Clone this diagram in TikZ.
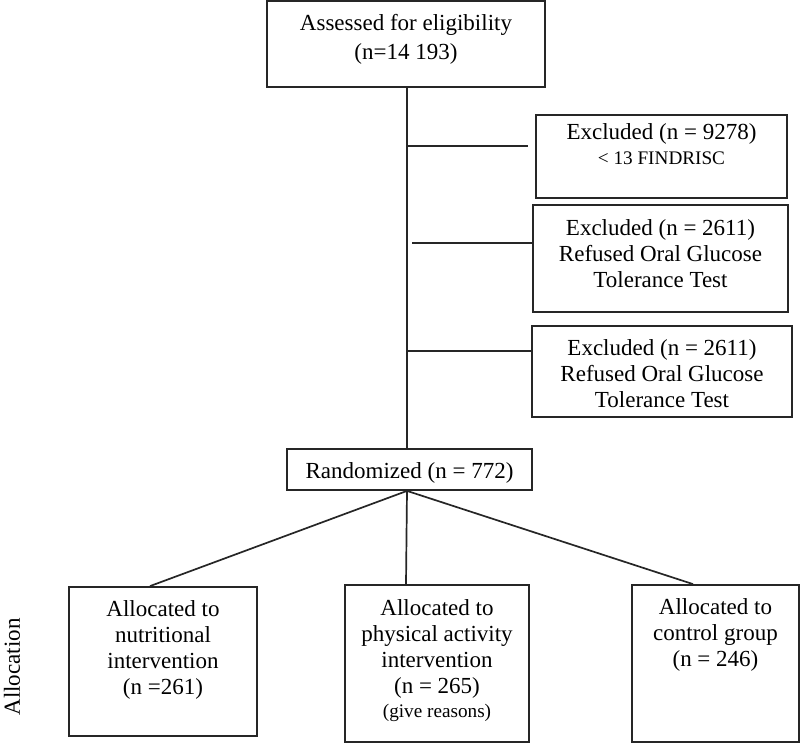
\documentclass[tikz,border=0pt]{standalone}
\usepackage{fontspec}
\setmainfont{Liberation Serif}
\begin{document}
\begin{tikzpicture}[x=0.5pt,y=-0.5pt,
  box/.style={draw=black!85, line width=0.9pt, inner sep=0pt},
  txt/.style={align=center, inner sep=0pt, font=\fontsize{11.5}{13}\selectfont},
  small/.style={font=\fontsize{9.6}{11}\selectfont},
  conn/.style={draw=black!85, line width=0.85pt}
]
\useasboundingbox (0,0) rectangle (800,744);
% boxes
\node[box, minimum width=139pt, minimum height=43pt] (top) at (406,44) {};
\node[box, minimum width=125.5pt, minimum height=41.5pt] (ex1) at (661.5,156.5) {};
\node[box, minimum width=127.5pt, minimum height=53.5pt] (ex2) at (660.5,258.5) {};
\node[box, minimum width=130pt, minimum height=45.5pt] (ex3) at (662,371.5) {};
\node[box, minimum width=122.5pt, minimum height=20.5pt] (rand) at (409.5,469.5) {};
\node[box, minimum width=94pt, minimum height=74.5pt] (nut) at (163,661.5) {};
\node[box, minimum width=92pt, minimum height=78.5pt] (phys) at (437,663.5) {};
\node[box, minimum width=83.5pt, minimum height=78.5pt] (ctrl) at (715.5,663.5) {};
% texts
\node[txt] (ttop) at (406,39) {Assessed for eligibility\\[1.5pt](n=14 193)};
\node[txt] (tex1a) at (661.5,134) {Excluded (n = 9278)};
\node[txt, small] (tex1b) at (661.5,158) {< 13 FINDRISC};
\node[txt] (tex2) at (660.5,254) {Excluded (n = 2611)\\Refused Oral Glucose\\Tolerance Test};
\node[txt] (tex3) at (662,374) {Excluded (n = 2611)\\Refused Oral Glucose\\Tolerance Test};
\node[txt] (trand) at (409.5,473) {Randomized (n = 772)};
\node[txt] (tnut) at (163,650) {Allocated to\\nutritional\\intervention\\(n =261)};
\node[txt] (tphys) at (437,648.5) {Allocated to\\physical activity\\intervention\\(n = 265)};
\node[txt, small] (tphys2) at (437,713) {(give reasons)};
\node[txt] (tctrl) at (715.5,635) {Allocated to\\control group\\(n = 246)};
\node[txt, rotate=90] (alloc) at (12,667) {Allocation};
% coordinates
\coordinate (xa) at (407,0);
\coordinate (xb) at (412,0);
\coordinate (y1) at (0,146);
\coordinate (x1) at (528,0);
\coordinate (y2) at (0,243);
\coordinate (y3) at (0,351);
\coordinate (xl) at (150,0);
\coordinate (xm) at (406,0);
\coordinate (xr) at (693,0);
% connectors
\draw[conn] (top.south -| xa) -- (rand.north -| xa);
\draw[conn] (y1 -| xa) -- (y1 -| x1);
\draw[conn] (y2 -| xb) -- (y2 -| ex2.west);
\draw[conn] (y3 -| xa) -- (y3 -| ex3.west);
\draw[conn] (rand.south -| xa) -- (nut.north -| xl);
\draw[conn] (rand.south -| xa) -- (phys.north -| xm);
\draw[conn] (rand.south -| xa) -- (ctrl.north -| xr);
\end{tikzpicture}
\end{document}
